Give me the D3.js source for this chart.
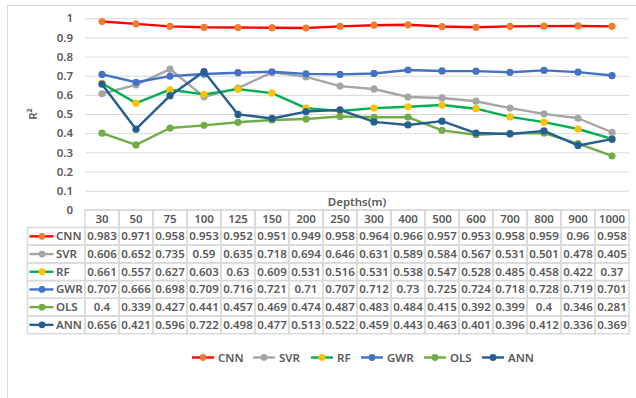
<!DOCTYPE html>
<html>
<head>
<meta charset="utf-8">
<script src="https://cdn.jsdelivr.net/npm/d3@7/dist/d3.min.js"></script>
<style>
  html, body { margin: 0; padding: 0; background: #fff; }
  svg text { font-family: "Noto Sans", "Open Sans", sans-serif; fill: #595959; font-weight: 600; }
</style>
</head>
<body>
<svg id="chart" width="636" height="398"></svg>
<script>
// Depth categories and R² per model
const depths = ["30","50","75","100","125","150","200","250","300","400","500","600","700","800","900","1000"];
const models = ["CNN","SVR","RF","GWR","OLS","ANN"];
const cnn = [0.983,0.971,0.958,0.953,0.952,0.951,0.949,0.958,0.964,0.966,0.957,0.953,0.958,0.959,0.96,0.958];
const svr = [0.606,0.652,0.735,0.59,0.635,0.718,0.694,0.646,0.631,0.589,0.584,0.567,0.531,0.501,0.478,0.405];
const rf  = [0.661,0.557,0.627,0.603,0.63,0.609,0.531,0.516,0.531,0.538,0.547,0.528,0.485,0.458,0.422,0.37];
const gwr = [0.707,0.666,0.698,0.709,0.716,0.721,0.71,0.707,0.712,0.73,0.725,0.724,0.718,0.728,0.719,0.701];
const ols = [0.4,0.339,0.427,0.441,0.457,0.469,0.474,0.487,0.483,0.484,0.415,0.392,0.399,0.4,0.346,0.281];
const ann = [0.656,0.421,0.596,0.722,0.498,0.477,0.513,0.522,0.459,0.443,0.463,0.401,0.396,0.412,0.336,0.369];
const yTicks = [0,0.1,0.2,0.3,0.4,0.5,0.6,0.7,0.8,0.9,1];

const lineColors   = ["#FF0000","#A5A5A5","#00B050","#4472C4","#70AD47","#255E91"];
const markerColors = ["#ED7D31","#A5A5A5","#FFC000","#4472C4","#70AD47","#255E91"];
const seriesValues = [cnn, svr, rf, gwr, ols, ann];
const series = models.map((name, i) => ({ name, values: seriesValues[i], line: lineColors[i], marker: markerColors[i] }));

const svg = d3.select("#chart");
const grid = "#D9D9D9";

// chart frame
svg.append("rect").attr("x", 7.5).attr("y", 5.5).attr("width", 640).attr("height", 400)
  .attr("fill", "none").attr("stroke", grid);

const plotLeft = 85, plotRight = 629, plotTop = 18.3, plotBottom = 209.8;
const x = d3.scaleBand().domain(depths).range([plotLeft, plotRight]);
const y = d3.scaleLinear().domain([0, 1]).range([plotBottom, plotTop]);

// horizontal gridlines + tick labels
const yAxis = d3.axisLeft(y).tickValues(yTicks).tickFormat(d3.format("~g"))
  .tickSize(-(plotRight - plotLeft)).tickPadding(12);
const ya = svg.append("g").attr("transform", `translate(${plotLeft},0)`).call(yAxis);
ya.select(".domain").remove();
ya.selectAll(".tick line").attr("stroke", grid).attr("stroke-width", 1);
ya.selectAll(".tick text").attr("font-size", 11.5).attr("font-family", null);

// axis titles
svg.append("text").attr("transform", `translate(37,${(plotTop + plotBottom) / 2}) rotate(-90)`)
  .attr("text-anchor", "middle").attr("font-size", 11.5).text("R²");
svg.append("text").attr("x", (plotLeft + plotRight) / 2).attr("y", 206)
  .attr("text-anchor", "middle").attr("font-size", 11.5).text("Depths(m)");

// series lines and markers
const line = d3.line().x((d, i) => x(depths[i]) + x.bandwidth() / 2).y(d => y(d));
series.forEach(s => {
  svg.append("path").datum(s.values).attr("d", line)
    .attr("fill", "none").attr("stroke", s.line).attr("stroke-width", 2.4).attr("stroke-linejoin", "round");
  svg.append("g").selectAll("circle").data(s.values).join("circle")
    .attr("cx", (d, i) => x(depths[i]) + x.bandwidth() / 2)
    .attr("cy", d => y(d)).attr("r", 3.6).attr("fill", s.marker);
});

// data table
const tableLeft = 27.5, rowH = 17.7, headTop = plotBottom;
const rowY = d3.scaleBand().domain(models).range([headTop + rowH, headTop + rowH * 7]);
const tg = svg.append("g");
// header cells
tg.append("g").selectAll("rect").data(depths).join("rect")
  .attr("x", d => x(d)).attr("y", headTop).attr("width", x.bandwidth()).attr("height", rowH)
  .attr("fill", "none").attr("stroke", grid).attr("stroke-width", 1.5);
tg.append("g").selectAll("text").data(depths).join("text")
  .attr("x", d => x(d) + x.bandwidth() / 2).attr("y", headTop + rowH / 2 + 4)
  .attr("text-anchor", "middle").attr("font-size", 11.5).text(d => d);
// body rows
series.forEach(s => {
  const ry = rowY(s.name);
  tg.append("rect").attr("x", tableLeft).attr("y", ry).attr("width", plotLeft - tableLeft).attr("height", rowH)
    .attr("fill", "none").attr("stroke", grid).attr("stroke-width", 1.5);
  tg.append("line").attr("x1", tableLeft + 2).attr("x2", tableLeft + 26).attr("y1", ry + rowH / 2).attr("y2", ry + rowH / 2)
    .attr("stroke", s.line).attr("stroke-width", 2.4);
  tg.append("circle").attr("cx", tableLeft + 14.5).attr("cy", ry + rowH / 2).attr("r", 3.4).attr("fill", s.marker);
  tg.append("text").attr("x", tableLeft + 28.5).attr("y", ry + rowH / 2 + 4).attr("font-size", 11.5).text(s.name);
  tg.append("g").selectAll("rect").data(s.values).join("rect")
    .attr("x", (d, i) => x(depths[i])).attr("y", ry).attr("width", x.bandwidth()).attr("height", rowH)
    .attr("fill", "none").attr("stroke", grid).attr("stroke-width", 1.5);
  tg.append("g").selectAll("text").data(s.values).join("text")
    .attr("x", (d, i) => x(depths[i]) + x.bandwidth() / 2).attr("y", ry + rowH / 2 + 4)
    .attr("text-anchor", "middle").attr("font-size", 11.5).text(d => d3.format("~g")(d));
});

// bottom legend
const legX = [192, 253, 311, 361, 424, 482];
const lg = svg.append("g");
series.forEach((s, i) => {
  const lx = legX[i], ly = 357.5;
  lg.append("line").attr("x1", lx).attr("x2", lx + 22).attr("y1", ly).attr("y2", ly)
    .attr("stroke", s.line).attr("stroke-width", 2.4);
  lg.append("circle").attr("cx", lx + 11).attr("cy", ly).attr("r", 3.4).attr("fill", s.marker);
  lg.append("text").attr("x", lx + 26).attr("y", ly + 4).attr("font-size", 11.5).text(s.name);
});
</script>
</body>
</html>
